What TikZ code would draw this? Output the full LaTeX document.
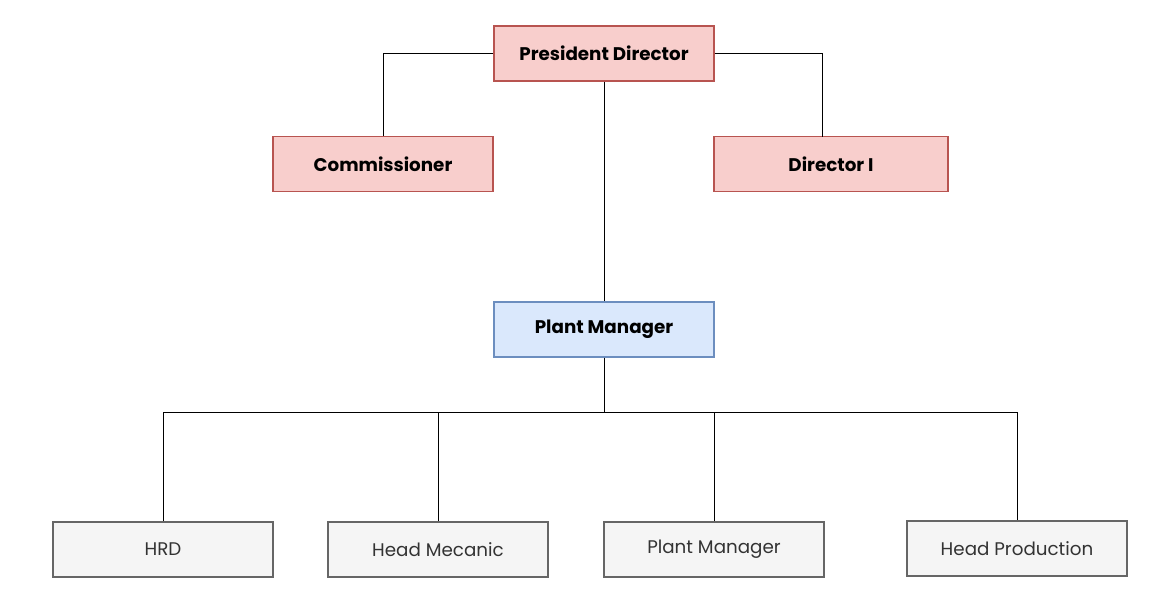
\documentclass[tikz,border=0pt]{standalone}
\usepackage{fontspec}
\setmainfont{Poppins}
\begin{document}
\begin{tikzpicture}[x=1pt,y=-1pt,
  box/.style={draw,line width=1.2pt,minimum width=220pt,minimum height=55pt,inner sep=0pt,font=\fontsize{18.3}{22}\selectfont},
  pinkbox/.style={box,fill=pinkfill,draw=pinkline,font=\fontsize{18.3}{22}\selectfont\bfseries},
  bluebox/.style={box,fill=bluefill,draw=blueline,font=\fontsize{18.3}{22}\selectfont\bfseries},
  graybox/.style={box,fill=grayfill,draw=grayline,text=graytext},
  link/.style={draw=black,line width=1pt}]
\definecolor{pinkfill}{HTML}{F8CECC}
\definecolor{pinkline}{HTML}{B85450}
\definecolor{bluefill}{HTML}{DAE8FC}
\definecolor{blueline}{HTML}{6C8EBF}
\definecolor{grayfill}{HTML}{F5F5F5}
\definecolor{grayline}{HTML}{666666}
\definecolor{graytext}{HTML}{333333}
\useasboundingbox (0,0) rectangle (1166,602);
\node[pinkbox] (pd) at (604,53.5) {President Director};
\node[pinkbox] (com) at (383,164) {Commissioner};
\node[pinkbox,minimum width=234pt] (dir) at (831,164) {Director I};
\node[bluebox] (pm) at (604,329.5) {Plant Manager};
\node[graybox] (hrd) at (163,549.5) {HRD};
\node[graybox] (hm) at (438,549.5) {Head Mecanic};
\node[graybox] (pm2) at (714,549.5) {Plant Manager};
\node[graybox] (hp) at (1017,548.5) {Head Production};
\coordinate (bus) at (604,412);
\coordinate (dirtop) at (822,137);
\draw[link] (pd.west) -| (com.north);
\draw[link] (pd.east) -| (dirtop);
\draw[link] (pd.south) -- (pm.north);
\draw[link] (pm.south) -- (bus);
\draw[link] (bus) -| (hrd.north);
\draw[link] (bus) -| (hm.north);
\draw[link] (bus) -| (pm2.north);
\draw[link] (bus) -| (hp.north);
\end{tikzpicture}
\end{document}
